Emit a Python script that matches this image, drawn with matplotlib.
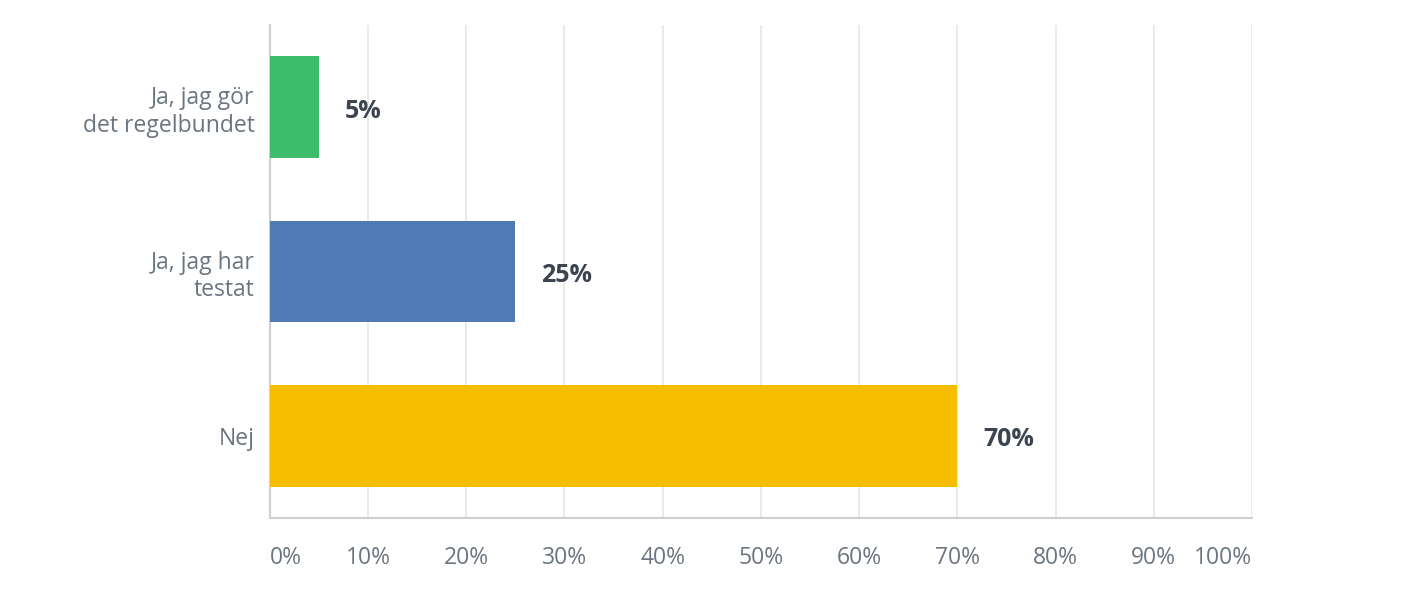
import matplotlib
matplotlib.use("Agg")
import matplotlib.pyplot as plt

plt.rcParams['font.family'] = ['Open Sans', 'DejaVu Sans']

categories = ["Ja, jag gör\ndet regelbundet", "Ja, jag har\ntestat", "Nej"]
values = [5, 25, 70]
colors = ["#3dbd6b", "#4f7ab5", "#f7bd00"]
ticks = [0, 10, 20, 30, 40, 50, 60, 70, 80, 90, 100]
tick_labels = [f"{t}%" for t in ticks]

fig = plt.figure(figsize=(14.2, 6), dpi=100)
ax = fig.add_axes([0.190, 0.1367, 0.6917, 0.8216])

ypos = list(range(len(categories)))
ax.barh(ypos, values, height=0.62, color=colors, zorder=3)
ax.set_ylim(2.5, -0.5)
ax.set_xlim(0, 100)

# value labels, nudged a little below bar centre like the original
for y, v in zip(ypos, values):
    ax.text(v + 2.6, y + 0.025, f"{v}%", va="center", ha="left", fontsize=18,
            fontweight="bold", color="#3b4450")

ax.set_yticks(ypos)
ax.set_yticklabels(categories, fontsize=16.5, color="#6b7581", linespacing=1.2)
ax.set_xticks(ticks)
ax.set_xticklabels(tick_labels, fontsize=16.5, color="#6b7581")
lbls = ax.get_xticklabels()
lbls[0].set_ha("left")
lbls[-1].set_ha("right")
ax.tick_params(axis="both", length=0)
ax.tick_params(axis="x", pad=20)
ax.tick_params(axis="y", pad=11)

ax.grid(axis="x", color="#e6e6e6", linewidth=1.2, zorder=0)
for s in ["top", "right"]:
    ax.spines[s].set_visible(False)
ax.spines["left"].set_color("#d0d0d0")
ax.spines["bottom"].set_color("#d0d0d0")
ax.spines["left"].set_linewidth(1.5)
ax.spines["bottom"].set_linewidth(1.5)

fig.savefig("out.png", dpi=100, facecolor="white")
